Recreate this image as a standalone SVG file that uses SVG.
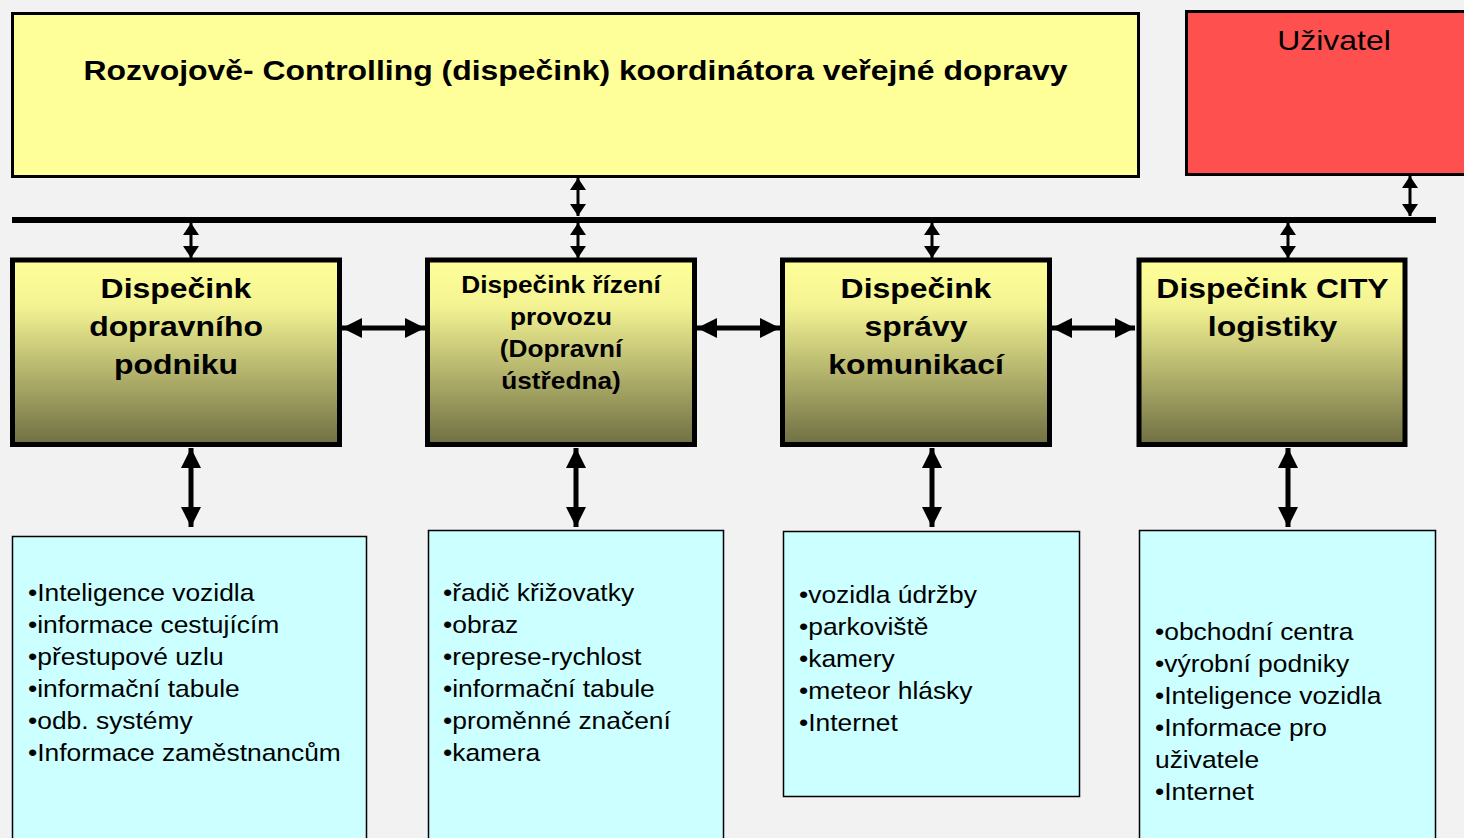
<svg xmlns="http://www.w3.org/2000/svg" width="1464" height="838" viewBox="0 0 1464 838">
<defs>
<linearGradient id="olive" x1="0" y1="0" x2="0" y2="1">
<stop offset="0" stop-color="#FFFF99"/>
<stop offset="0.25" stop-color="#F3F393"/>
<stop offset="1" stop-color="#6F6F43"/>
</linearGradient>
<marker id="hs" markerUnits="userSpaceOnUse" markerWidth="14" markerHeight="16" refX="12" refY="8" orient="auto-start-reverse"><path d="M0,0 L12,8 L0,16 z" fill="#000"/></marker>
<marker id="hl" markerUnits="userSpaceOnUse" markerWidth="22" markerHeight="22" refX="20" refY="10" orient="auto-start-reverse"><path d="M0,0 L20,10 L0,20 z" fill="#000"/></marker>
<style>
.bg{fill:#F2F2F2}
.disp{fill:url(#olive);stroke:#000;stroke-width:5}
.list{fill:#CCFFFF;stroke:#000;stroke-width:1.5}
.t{font-family:"Liberation Sans",Arial,sans-serif;fill:#000}
.b{font-weight:bold;text-anchor:middle}
.li{font-size:24px}
.s{stroke:#000;stroke-width:3;fill:none;marker-start:url(#hs);marker-end:url(#hs)}
.l{stroke:#000;stroke-width:5;fill:none;marker-start:url(#hl);marker-end:url(#hl)}
</style>
</defs>
<rect class="bg" x="0" y="0" width="1464" height="838"/>

<g id="controlling">
<rect x="12.5" y="13.5" width="1126" height="163" fill="#FFFF99" stroke="#000" stroke-width="3"/>
<g transform="translate(575.5,0) scale(1.14,1)"><text class="t b" x="0" y="80" font-size="28">Rozvojově- Controlling (dispečink) koordinátora veřejné dopravy</text></g>
</g>

<g id="uzivatel">
<rect x="1186.5" y="11.5" width="290" height="163" fill="#FF5050" stroke="#000" stroke-width="3"/>
<g transform="translate(1334,0) scale(1.12,1)"><text class="t" x="0" y="50" font-size="28.5" text-anchor="middle">Uživatel</text></g>
</g>

<g id="connectors">
<line x1="12" y1="220" x2="1436" y2="220" stroke="#000" stroke-width="6"/>
<line class="s" x1="578" y1="178" x2="578" y2="216"/>
<line class="s" x1="1410" y1="176" x2="1410" y2="216"/>
<line class="s" x1="191" y1="223" x2="191" y2="258"/>
<line class="s" x1="578" y1="223" x2="578" y2="258"/>
<line class="s" x1="932" y1="223" x2="932" y2="258"/>
<line class="s" x1="1288" y1="223" x2="1288" y2="258"/>
<line class="l" x1="342" y1="328" x2="425" y2="328"/>
<line class="l" x1="697" y1="328" x2="780" y2="328"/>
<line class="l" x1="1052" y1="328" x2="1135" y2="328"/>
<line class="l" x1="191" y1="448" x2="191" y2="527"/>
<line class="l" x1="576" y1="448" x2="576" y2="527"/>
<line class="l" x1="932" y1="448" x2="932" y2="527"/>
<line class="l" x1="1288" y1="448" x2="1288" y2="527"/>
</g>

<g id="disp-dopravni">
<rect class="disp" x="12.5" y="260" width="327" height="184.5"/>
<g transform="translate(176,0) scale(1.14,1)"><text class="t b" font-size="28"><tspan x="0" y="298">Dispečink</tspan><tspan x="0" y="336">dopravního</tspan><tspan x="0" y="374">podniku</tspan></text></g>
</g>

<g id="disp-rizeni">
<rect class="disp" x="427.5" y="260" width="267" height="184.5"/>
<g transform="translate(561,0) scale(1.14,1)"><text class="t b" font-size="23"><tspan x="0" y="293">Dispečink řízení</tspan><tspan x="0" y="325">provozu</tspan><tspan x="0" y="357">(Dopravní</tspan><tspan x="0" y="389">ústředna)</tspan></text></g>
</g>

<g id="disp-komunikaci">
<rect class="disp" x="782.5" y="260" width="267" height="184.5"/>
<g transform="translate(916,0) scale(1.14,1)"><text class="t b" font-size="28"><tspan x="0" y="298">Dispečink</tspan><tspan x="0" y="336">správy</tspan><tspan x="0" y="374">komunikací</tspan></text></g>
</g>

<g id="disp-city">
<rect class="disp" x="1139" y="260" width="266" height="184.5"/>
<g transform="translate(1272.5,0) scale(1.14,1)"><text class="t b" font-size="28"><tspan x="0" y="298">Dispečink CITY</tspan><tspan x="0" y="336">logistiky</tspan></text></g>
</g>

<g id="list-dopravni">
<rect class="list" x="12.5" y="536.5" width="354" height="320"/>
<g transform="translate(28,0) scale(1.1,1)"><text class="t li"><tspan x="0" y="601">•Inteligence vozidla</tspan><tspan x="0" y="633">•informace cestujícím</tspan><tspan x="0" y="665">•přestupové uzlu</tspan><tspan x="0" y="697">•informační tabule</tspan><tspan x="0" y="729">•odb. systémy</tspan><tspan x="0" y="761">•Informace zaměstnancům</tspan></text></g>
</g>

<g id="list-rizeni">
<rect class="list" x="428.5" y="530.5" width="295" height="320"/>
<g transform="translate(443,0) scale(1.1,1)"><text class="t li"><tspan x="0" y="601">•řadič křižovatky</tspan><tspan x="0" y="633">•obraz</tspan><tspan x="0" y="665">•represe-rychlost</tspan><tspan x="0" y="697">•informační tabule</tspan><tspan x="0" y="729">•proměnné značení</tspan><tspan x="0" y="761">•kamera</tspan></text></g>
</g>

<g id="list-komunikaci">
<rect class="list" x="783.5" y="531.5" width="296" height="265"/>
<g transform="translate(799,0) scale(1.1,1)"><text class="t li"><tspan x="0" y="603">•vozidla údržby</tspan><tspan x="0" y="635">•parkoviště</tspan><tspan x="0" y="667">•kamery</tspan><tspan x="0" y="699">•meteor hlásky</tspan><tspan x="0" y="731">•Internet</tspan></text></g>
</g>

<g id="list-city">
<rect class="list" x="1139.5" y="530.5" width="296" height="320"/>
<g transform="translate(1155,0) scale(1.1,1)"><text class="t li"><tspan x="0" y="640">•obchodní centra</tspan><tspan x="0" y="672">•výrobní podniky</tspan><tspan x="0" y="704">•Inteligence vozidla</tspan><tspan x="0" y="736">•Informace pro</tspan><tspan x="0" y="768">uživatele</tspan><tspan x="0" y="800">•Internet</tspan></text></g>
</g>
</svg>
